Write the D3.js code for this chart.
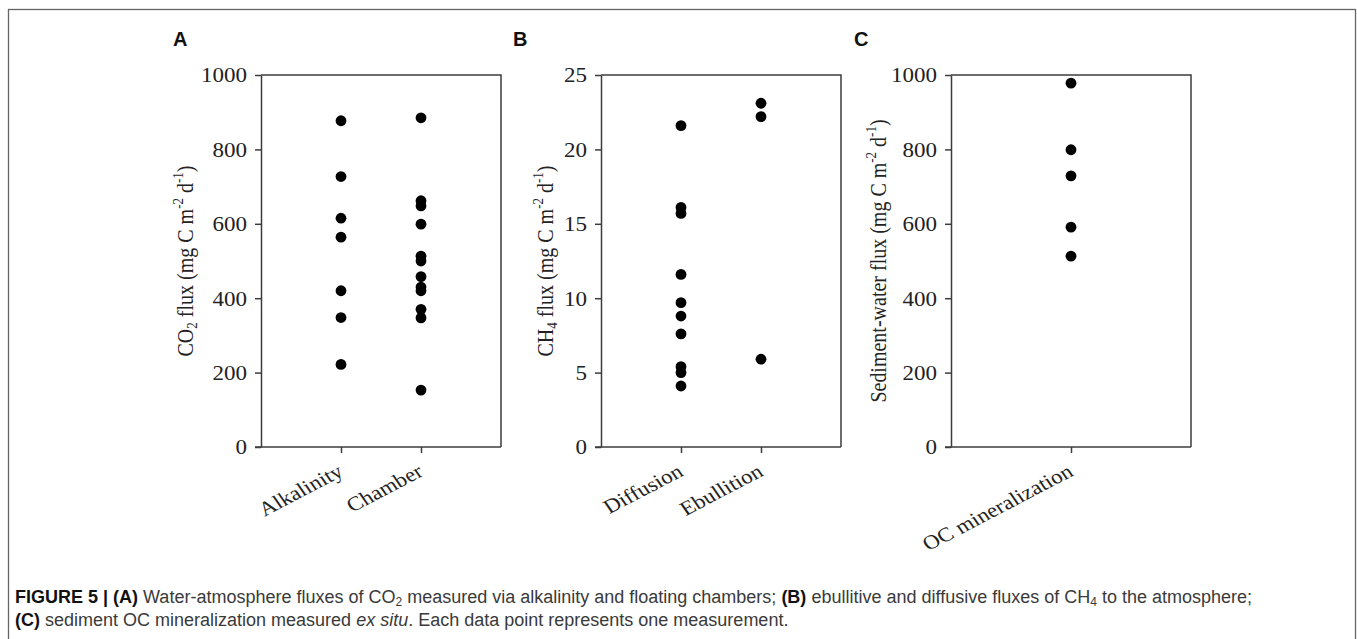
<!DOCTYPE html>
<html>
<head>
<meta charset="utf-8">
<script src="https://cdn.jsdelivr.net/npm/d3@7"></script>
<style>
  body { margin: 0; background: #fff; }
  svg { display: block; }
</style>
</head>
<body>
<div id="chart"></div>
<script>
// values
var alkalinity = [877, 727, 615, 564, 420, 348, 222];
var chamber = [885, 662, 648, 599, 513, 500, 458, 430, 420, 370, 347, 153];
var diffusion = [21.6, 16.1, 15.7, 11.6, 9.7, 8.8, 7.6, 5.4, 5.0, 4.1];
var ebullition = [23.1, 22.2, 5.9];
var ocMineralization = [978, 799, 729, 591, 513];

var co2Ticks = [0, 200, 400, 600, 800, 1000];
var ch4Ticks = [0, 5, 10, 15, 20, 25];
var sedTicks = [0, 200, 400, 600, 800, 1000];

var W = 1357, H = 639;
var sx = 1.15; // the figure's text is a bit stretched sideways
var serif = "'Liberation Serif', 'Times New Roman', serif";
var lineCol = "#3c3c3c";

var svg = d3.select("#chart").append("svg")
    .attr("width", W)
    .attr("height", H);

svg.append("rect")
    .attr("x", 8.5).attr("y", 9.5)
    .attr("width", 1347).attr("height", 700)
    .attr("fill", "none")
    .attr("stroke", "#666")
    .attr("stroke-width", 1.3);

// set up the panels
var panels = [
  { letter: "A", left: 261, groups: [["Alkalinity", alkalinity], ["Chamber", chamber]],
    domain: [0, 1000], ticks: co2Ticks, titleX: 193, title: [["CO"], ["2", "sub"], [" flux (mg C m"], ["-2", "sup"], [" d"], ["-1", "sup"], [")"]],
    letterX: 173 },
  { letter: "B", left: 601, groups: [["Diffusion", diffusion], ["Ebullition", ebullition]],
    domain: [0, 25], ticks: ch4Ticks, titleX: 553, title: [["CH"], ["4", "sub"], [" flux (mg C m"], ["-2", "sup"], [" d"], ["-1", "sup"], [")"]],
    letterX: 513 },
  { letter: "C", left: 951, groups: [["OC mineralization", ocMineralization]],
    domain: [0, 1000], ticks: sedTicks, titleX: 886, title: [["Sediment-water flux (mg C m"], ["-2", "sup"], [" d"], ["-1", "sup"], [")"]],
    letterX: 854 }
];

var pw = 240, plotTop = 75, plotBottom = 447;

panels.forEach(function(p) {
  var g = svg.append("g");

  var x = d3.scalePoint()
    .domain(p.groups.map(function(d) { return d[0]; }))
    .range([p.left, p.left + pw])
    .padding(1);

  var y = d3.scaleLinear().domain(p.domain).range([plotBottom, plotTop]);

  // frame (top and right)
  g.append("path")
    .attr("d", "M" + p.left + "," + plotTop + "H" + (p.left + pw) + "V" + plotBottom)
    .attr("fill", "none")
    .attr("stroke", lineCol)
    .attr("stroke-width", 1.5);

  // y axis
  var ya = g.append("g")
    .attr("transform", "translate(" + p.left + ",0)")
    .call(d3.axisLeft(y).tickValues(p.ticks).tickFormat(d3.format("d")).tickSize(6).tickSizeOuter(0));
  ya.select(".domain").attr("stroke", lineCol).attr("stroke-width", 1.5);
  ya.selectAll(".tick line").attr("stroke", lineCol).attr("stroke-width", 1.5);
  ya.selectAll(".tick text")
    .attr("font-family", serif)
    .attr("font-size", "20px")
    .attr("fill", "#222")
    .attr("x", -14 / sx)
    .attr("dy", "0.34em")
    .attr("transform", "scale(" + sx + ",1)");

  // x axis
  var xa = g.append("g")
    .attr("transform", "translate(0," + plotBottom + ")")
    .call(d3.axisBottom(x).tickSize(6).tickSizeOuter(0));
  xa.select(".domain").attr("stroke", lineCol).attr("stroke-width", 1.5)
    .attr("d", "M" + (p.left - 6) + ",0H" + (p.left + pw));
  xa.selectAll(".tick line").attr("stroke", lineCol).attr("stroke-width", 1.5);
  xa.selectAll(".tick text")
    .attr("font-family", serif)
    .attr("font-size", "20px")
    .attr("fill", "#222")
    .attr("text-anchor", "end")
    .attr("x", 0).attr("y", 0).attr("dy", 0)
    .attr("transform", "translate(3,28) scale(" + sx + ",1) rotate(-31)");

  // points
  p.groups.forEach(function(grp) {
    g.append("g").selectAll("circle")
      .data(grp[1])
      .enter()
      .append("circle")
        .attr("cx", x(grp[0]))
        .attr("cy", function(d) { return y(d); })
        .attr("r", 5.4)
        .attr("fill", "#000");
  });

  // y title
  var t = g.append("text")
    .attr("transform", "translate(" + p.titleX + "," + ((plotTop + plotBottom) / 2) + ") scale(" + sx + ",1) rotate(-90)")
    .attr("text-anchor", "middle")
    .attr("font-family", serif)
    .attr("font-size", "20px")
    .attr("fill", "#222");
  p.title.forEach(function(part) {
    var s = t.append("tspan").text(part[0]);
    if (part[1] == "sub") s.attr("font-size", "13px").attr("baseline-shift", "-4");
    if (part[1] == "sup") s.attr("font-size", "13px").attr("baseline-shift", "8");
  });

  // panel letter
  svg.append("text")
    .attr("x", p.letterX).attr("y", 46)
    .attr("font-family", "'Liberation Sans', Arial, sans-serif")
    .attr("font-weight", "bold")
    .attr("font-size", "20px")
    .attr("fill", "#111")
    .text(p.letter);
});

// caption
var sans = "'Liberation Sans', Arial, sans-serif";
var cap1 = [["FIGURE 5 | (A)", "b"], [" Water-atmosphere fluxes of CO"], ["2", "sub"],
  [" measured via alkalinity and floating chambers; "], ["(B)", "b"],
  [" ebullitive and diffusive fluxes of CH"], ["4", "sub"], [" to the atmosphere;"]];
var cap2 = [["(C)", "b"], [" sediment OC mineralization measured "], ["ex situ", "i"],
  [". Each data point represents one measurement."]];

[[cap1, 603], [cap2, 626]].forEach(function(line) {
  var t = svg.append("text")
    .attr("x", 15).attr("y", line[1])
    .attr("font-family", sans)
    .attr("font-size", "18px")
    .attr("fill", "#3a3a3a");
  line[0].forEach(function(part) {
    var s = t.append("tspan").text(part[0]);
    if (part[1] == "b") s.attr("font-weight", "bold").attr("fill", "#111");
    if (part[1] == "i") s.attr("font-style", "italic");
    if (part[1] == "sub") s.attr("font-size", "12px").attr("baseline-shift", "-3");
  });
});
</script>
</body>
</html>
